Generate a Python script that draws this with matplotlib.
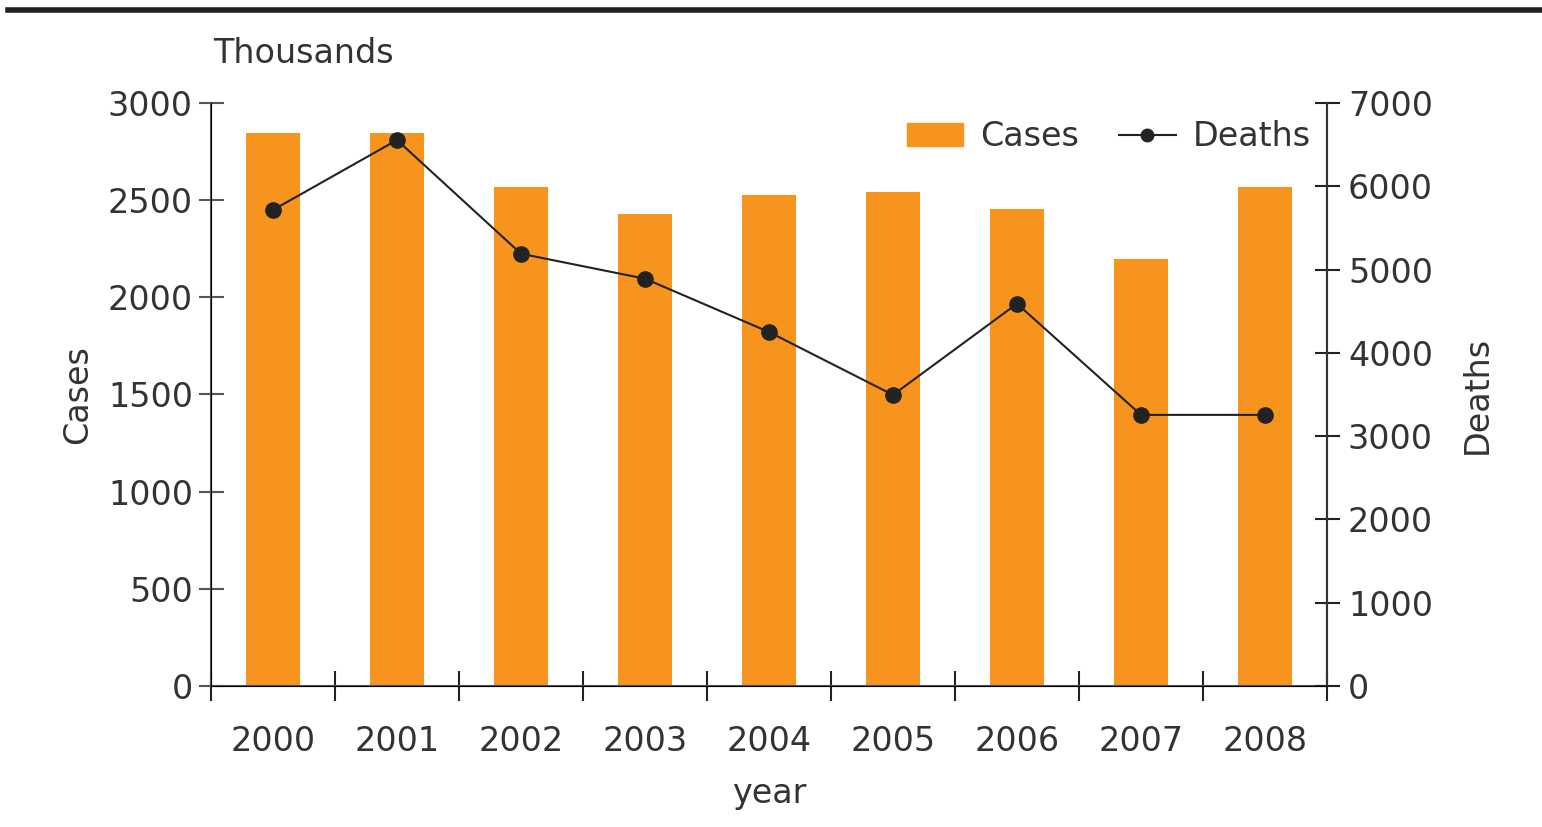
import matplotlib.pyplot as plt
from matplotlib.lines import Line2D
from matplotlib.patches import Patch
import numpy as np

years = ['2000', '2001', '2002', '2003', '2004', '2005', '2006', '2007', '2008']
cases = [2845, 2845, 2570, 2430, 2527, 2542, 2455, 2197, 2570]
deaths = [5715, 6555, 5190, 4890, 4250, 3495, 4590, 3255, 3255]

orange = '#F7941D'
txt = '#333333'
axc = '#555555'

plt.rcParams['font.family'] = ['DejaVu Sans']
plt.rcParams['font.size'] = 24

fig = plt.figure(figsize=(15.42, 8.27), dpi=100)
ax = fig.add_axes([0.1368, 0.1705, 0.8606 - 0.1368, 0.8755 - 0.1705])
x = np.arange(len(years))

ax.bar(x, cases, width=0.43, color=orange, zorder=2)
ax.set_xlim(-0.5, len(years) - 0.5)
ax.set_ylim(0, 3000)
ax.set_yticks(np.arange(0, 3001, 500))

# category boundaries carry the tick marks, labels sit under the bars
ax.set_xticks(np.arange(-0.5, len(years), 1.0))
ax.set_xticklabels([])
ax.set_xticks(x, minor=True)
ax.set_xticklabels(years, minor=True)
ax.tick_params(axis='x', which='major', direction='inout', length=22, width=1.5, color='#222222')
ax.tick_params(axis='x', which='minor', length=0, pad=28, labelcolor=txt)
ax.tick_params(axis='y', direction='inout', length=18, width=1.5, color=axc, labelcolor=txt, pad=4)

ax.spines['top'].set_visible(False)
for s in ['left', 'bottom', 'right']:
    ax.spines[s].set_color(axc)
    ax.spines[s].set_linewidth(1.5)

ax.set_ylabel('Cases', color=txt, labelpad=10)
ax.set_xlabel('year', color=txt, labelpad=14)

ax2 = ax.twinx()
ax2.plot(x, deaths, color='#222222', lw=1.5, marker='o', markersize=11, zorder=3)
ax2.set_ylim(0, 7000)
ax2.set_yticks(np.arange(0, 7001, 1000))
ax2.tick_params(axis='y', direction='inout', length=18, width=1.5, color='#222222', labelcolor=txt, pad=6)
ax2.spines['top'].set_visible(False)
ax2.spines['right'].set_color('#333333')
ax2.spines['right'].set_linewidth(1.5)
ax2.set_ylabel('Deaths', color=txt, labelpad=20)

fig.text(0.138, 0.935, 'Thousands', color=txt, ha='left', va='center', fontsize=24)

handles = [Patch(color=orange),
           Line2D([], [], color='#222222', lw=1.5, marker='o', markersize=9)]
ax2.legend(handles, ['Cases', 'Deaths'], loc='center right', bbox_to_anchor=(1.012, 0.942),
           ncol=2, frameon=False, handlelength=1.7, handletextpad=0.5,
           columnspacing=1.2, labelcolor=txt, fontsize=24)

# heavy rule across the top of the figure
fig.add_artist(Line2D([0.005, 1.0], [0.988, 0.988], color='#222222', lw=4))

fig.savefig('out.png', dpi=100)
